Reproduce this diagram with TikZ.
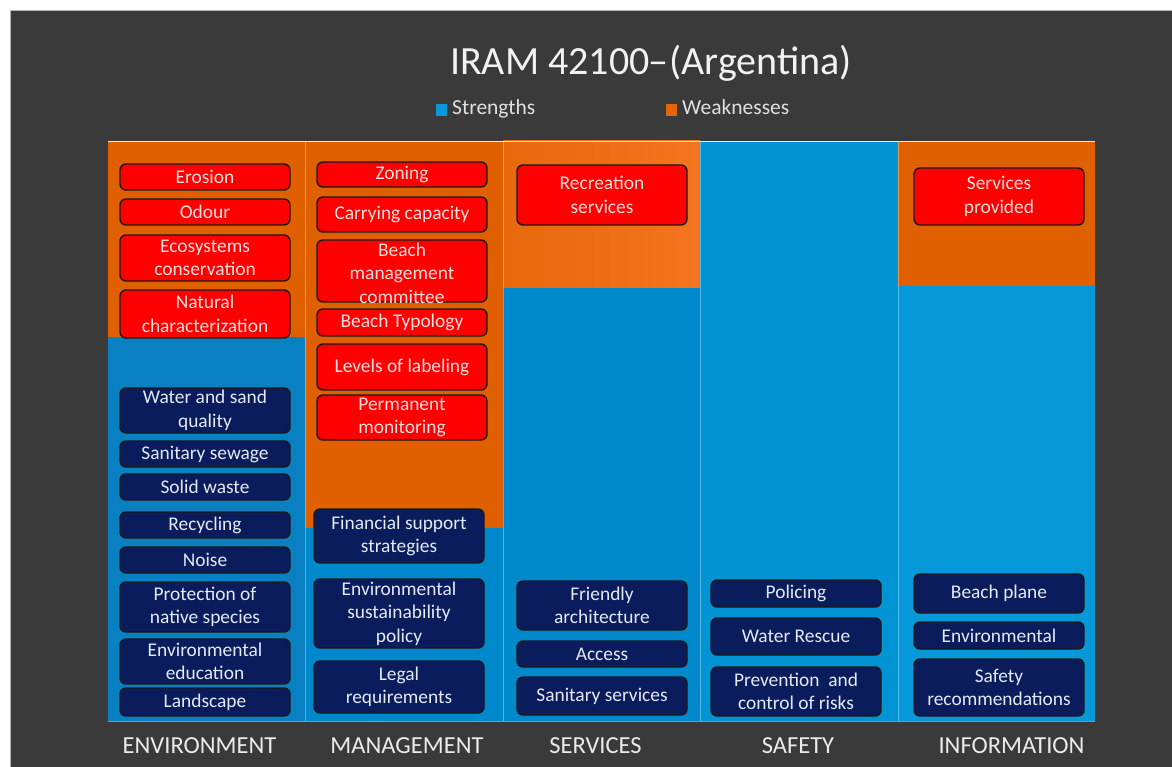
\documentclass[tikz,border=0pt]{standalone}
\usepackage{fontspec}
\setmainfont{Carlito}
\definecolor{bgdark}{HTML}{3A3A3A}
\definecolor{orA}{HTML}{E06000}
\definecolor{orB}{HTML}{F47420}
\definecolor{blA}{HTML}{0880C2}
\definecolor{blB}{HTML}{0088CC}
\definecolor{blC}{HTML}{0094D4}
\definecolor{blD}{HTML}{0698D8}
\definecolor{redbx}{HTML}{FF0000}
\definecolor{navy}{HTML}{0B1C5C}
\definecolor{redtxt}{HTML}{FFE0E0}
\definecolor{navytxt}{HTML}{E2EAF4}
\tikzset{
  bx/.style={rounded corners=6pt, draw=black!90, line width=1.4pt, minimum width=170pt, align=center, inner sep=0pt,
    font=\fontsize{19.4}{23.5}\selectfont},
  redb/.style={bx, fill=redbx, text=redtxt},
  navb/.style={bx, fill=navy, text=navytxt},
  cat/.style={text=white!92!black, font=\fontsize{24.5}{27}\selectfont, anchor=base},
}
\begin{document}
\begin{tikzpicture}[x=1pt,y=-1pt]
\useasboundingbox (0,0) rectangle (1172,767);
\fill[white] (0,0) rectangle (1172,767);
\fill[bgdark] (10,10) rectangle (1172,767);
\draw[gray!60, line width=0.6pt] (10,767) -- (10,10) -- (1172,10);
% columns
\fill[blA] (108,141) rectangle (305,721);
\fill[orA] (108,141) rectangle (305,337);
\fill[blB] (305,141) rectangle (503,721);
\fill[orA] (305,141) rectangle (503,528);
\fill[blB] (503,141) rectangle (700,721);
\shade[left color=orA!60!orB, right color=orB] (503,141) rectangle (700,287);
\fill[blC] (700,141) rectangle (898,721);
\fill[blD] (898,141) rectangle (1095,721);
\fill[orA] (898,141) rectangle (1095,286);
\foreach \x in {305,503,700,898}
  \draw[white, opacity=0.35, line width=0.8pt] (\x,141) -- (\x,721);
\draw[white, opacity=0.45, line width=0.8pt] (108,721) -- (1095,721);
\draw[white!80!orange, line width=0.8pt] (108,141) -- (1095,141);
% title and legend
\node[text=white!95!black, font=\fontsize{40}{44}\selectfont, anchor=base] (title) at (651,75) {IRAM 42100\kern-1pt–\kern1pt(Argentina)};
\fill[blD] (436,104) rectangle (447,116);
\node[text=white!88!black, font=\fontsize{21.5}{24}\selectfont, anchor=base west, inner sep=0pt] (lgs) at (452,115) {Strengths};
\fill[orA!80!orB] (666,104) rectangle (677,116);
\node[text=white!88!black, font=\fontsize{21.5}{24}\selectfont, anchor=base west, inner sep=0pt] (lgw) at (682,115) {Weaknesses};
% ENVIRONMENT
\node[redb, minimum height=26pt] (e1) at (205,177) {Erosion};
\node[redb, minimum height=26pt] (e2) at (205,212) {Odour};
\node[redb, minimum height=46pt] (e3) at (205,258) {Ecosystems\\conservation};
\node[redb, minimum height=48pt] (e4) at (205,314) {Natural\\characterization};
\node[navb, minimum height=45pt] (e5) at (205,410.5) {Water and sand\\quality};
\node[navb, minimum height=26pt] (e6) at (205,454) {Sanitary sewage};
\node[navb, minimum height=26pt] (e7) at (205,487) {Solid waste};
\node[navb, minimum height=26pt] (e8) at (205,525) {Recycling};
\node[navb, minimum height=26pt] (e9) at (205,560) {Noise};
\node[navb, minimum height=50pt] (e10) at (205,607) {Protection of\\native species};
\node[navb, minimum height=45pt] (e11) at (205,661.5) {Environmental\\education};
\node[navb, minimum height=28pt] (e12) at (205,702) {Landscape};
% MANAGEMENT
\node[redb, minimum height=25pt] (m1) at (402,174.5) {Zoning};
\node[redb, minimum height=35pt] (m2) at (402,214.5) {Carrying capacity};
\node[redb, minimum height=62pt] (m3) at (402,271) {};
\node[text=redtxt, align=center, font=\fontsize{19.4}{23.5}\selectfont] (m3t) at (402,273) {Beach\\management\\committee};
\node[redb, minimum height=27pt] (m4) at (402,322.5) {Beach Typology};
\node[redb, minimum height=46pt] (m5) at (402,367) {Levels of labeling};
\node[redb, minimum height=45pt] (m6) at (402,417.5) {Permanent\\monitoring};
\node[navb, minimum height=54pt] (m7) at (399,536) {Financial support\\strategies};
\node[navb, minimum height=69pt] (m8) at (399,613.5) {Environmental\\sustainability\\policy};
\node[navb, minimum height=52pt] (m9) at (399,687) {Legal\\requirements};
% SERVICES
\node[redb, minimum height=60pt] (s1) at (602,195) {Recreation\\services};
\node[navb, minimum height=49pt] (s2) at (602,605.5) {Friendly\\architecture};
\node[navb, minimum height=26pt] (s3) at (602,654) {Access};
\node[navb, minimum height=38pt] (s4) at (602,696) {Sanitary services};
% SAFETY
\node[navb, minimum height=27pt] (f1) at (796,593.5) {Policing};
\node[navb, minimum height=37pt] (f2) at (796,636.5) {Water Rescue};
\node[navb, minimum height=49pt] (f3) at (796,691.5) {Prevention\ \ and\\control of risks};
% INFORMATION
\node[redb, minimum height=57pt] (i1) at (999,196.5) {Services\\provided};
\node[navb, minimum height=39pt] (i2) at (999,593.5) {Beach plane};
\node[navb, minimum height=27pt] (i3) at (999,635.5) {Environmental};
\node[navb, minimum height=57pt] (i4) at (999,687.5) {Safety\\recommendations};
% categories
\node[cat] (c1) at (199.5,753) {ENVIRONMENT};
\node[cat] (c2) at (407,753) {MANAGEMENT};
\node[cat] (c3) at (595.5,753) {SERVICES};
\node[cat] (c4) at (798,753) {SAFETY};
\node[cat] (c5) at (1011.5,753) {INFORMATION};
\end{tikzpicture}
\end{document}
